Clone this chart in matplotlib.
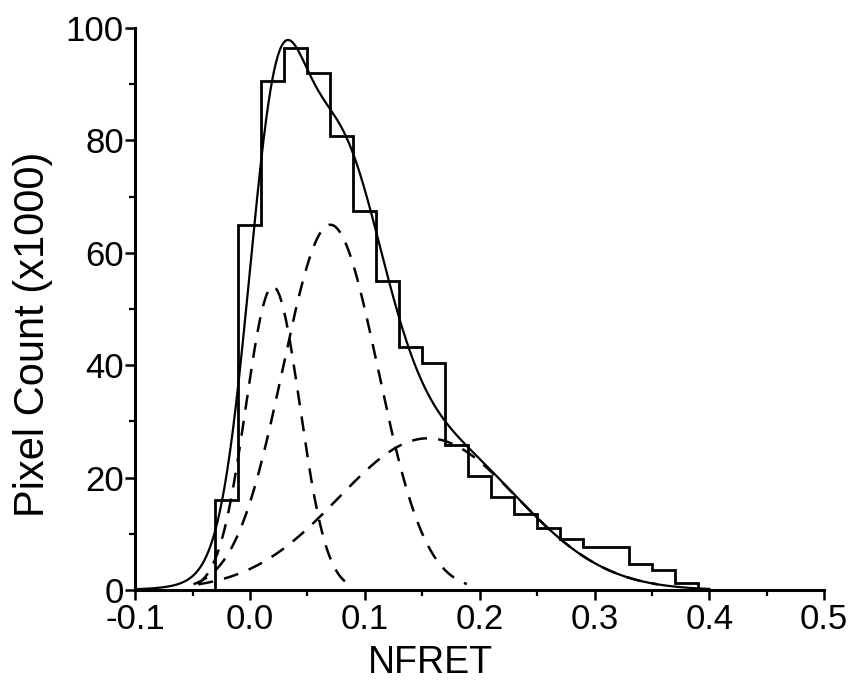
import numpy as np
import matplotlib
matplotlib.use("Agg")
import matplotlib.pyplot as plt
from matplotlib.ticker import MultipleLocator

# histogram (bin edges in NFRET, counts in units of 10000 pixels)
bin_edges = [-0.03, -0.01, 0.01, 0.03, 0.05, 0.07, 0.09, 0.11, 0.13, 0.15, 0.17,
             0.19, 0.21, 0.23, 0.25, 0.27, 0.29, 0.31, 0.33, 0.35, 0.37, 0.39]
bin_counts = [16, 65, 90.5, 96.4, 92, 80.8, 67.5, 55, 43.3, 40.4, 25.8,
              20.3, 16.6, 13.6, 11, 9.1, 7.7, 7.7, 4.6, 3.6, 1.2]

# gaussian peaks of the fit
peak_centers = [0.020, 0.070, 0.155]
peak_heights = [54, 65, 27]
peak_sigmas = [0.0235, 0.0414, 0.078]

plt.rcParams['font.family'] = ['Liberation Sans', 'DejaVu Sans']

fig = plt.figure(figsize=(8.55, 6.84), dpi=100)
ax = fig.add_axes([0.158, 0.1374, 0.806, 0.8216])

x = np.linspace(-0.1, 0.4, 600)
total = np.zeros_like(x)
for c, h, s in zip(peak_centers, peak_heights, peak_sigmas):
    y = h * np.exp(-(x - c) ** 2 / (2 * s ** 2))
    total += y
    y_draw = np.where(y > 1.0, y, np.nan)
    ax.plot(x, y_draw, color='black', lw=1.8, dashes=(6, 4.5))

ax.stairs(bin_counts, bin_edges, color='black', lw=2.0, baseline=0)
ax.plot(x, total, color='black', lw=1.6)

ax.set_xlim(-0.1, 0.5)
ax.set_ylim(0, 100)
ax.xaxis.set_major_locator(MultipleLocator(0.1))
ax.xaxis.set_minor_locator(MultipleLocator(0.05))
ax.yaxis.set_major_locator(MultipleLocator(20))
ax.yaxis.set_minor_locator(MultipleLocator(10))
ax.set_xticklabels([f"{v:.1f}" for v in ax.get_xticks()])

for side in ['top', 'right']:
    ax.spines[side].set_visible(False)
for side in ['left', 'bottom']:
    ax.spines[side].set_linewidth(2.2)

ax.tick_params(which='major', direction='out', length=7, width=1.8, labelsize=25)
ax.tick_params(which='minor', direction='out', length=4.5, width=1.6)
ax.tick_params(axis='x', which='major', pad=2.5)
ax.tick_params(axis='y', which='major', pad=1)

ax.set_xlabel("NFRET", fontsize=27)
ax.set_ylabel("Pixel Count (x1000)", fontsize=30)
ax.xaxis.set_label_coords(0.428, -0.097)
ax.yaxis.set_label_coords(-0.119, 0.455)

fig.savefig("out.png", dpi=100)
